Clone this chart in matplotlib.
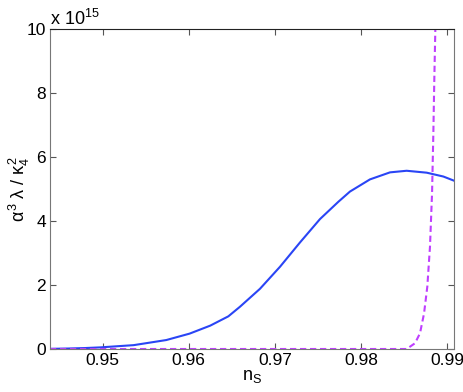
import matplotlib
matplotlib.use("Agg")
import matplotlib.pyplot as plt

plt.rcParams["font.family"] = ["Liberation Sans", "DejaVu Sans"]
plt.rcParams["mathtext.fontset"] = "custom"
plt.rcParams["mathtext.rm"] = "Liberation Sans"
plt.rcParams["mathtext.it"] = "Liberation Sans"

# values in units of 1e15
ns_solid = [0.9439, 0.946, 0.948, 0.9497, 0.9536, 0.9574, 0.9601, 0.9625,
            0.9646, 0.96595, 0.96827, 0.9706, 0.97292, 0.97524,
            0.97737, 0.97872, 0.98104, 0.98337, 0.9853, 0.98763, 0.98956,
            0.9908]
y_solid = [0.005, 0.015, 0.03, 0.05, 0.12, 0.28, 0.48, 0.73,
           1.02, 1.32, 1.88, 2.57, 3.33, 4.06,
           4.60, 4.92, 5.30, 5.52, 5.57, 5.51, 5.39,
           5.26]

ns_dash = [0.9439, 0.980, 0.9853, 0.98627, 0.98685, 0.98732, 0.9877,
           0.98801, 0.98825, 0.9884, 0.98851, 0.98863, 0.9887]
y_dash = [0.0, 0.0, 0.0, 0.18, 0.49, 1.11, 1.95,
          3.2, 4.87, 6.74, 8.4, 9.97, 11.0]

xticks = [0.95, 0.96, 0.97, 0.98, 0.99]
yticks = [0, 2, 4, 6, 8, 10]

fig = plt.figure(figsize=(4.63, 3.92), dpi=100)
ax = fig.add_axes([0.108, 0.1097, 0.8726, 0.8163])

ax.plot(ns_solid, y_solid, color="#2a45f5", lw=1.5)
ax.plot(ns_dash, y_dash, color="#bf3fff", lw=1.5, dashes=(3.0, 1.8))

ax.set_xlim(0.9439, 0.9908)
ax.set_ylim(0, 10)
ax.set_xticks(xticks)
ax.set_xticklabels([f"{t:.2f}" for t in xticks])
ax.set_yticks(yticks)
ax.tick_params(direction="in", top=True, right=True, length=4,
               labelsize=12.5, color="#555555", pad=3)
for side in ["left", "right", "bottom"]:
    ax.spines[side].set_color("#777777")
ax.spines["top"].set_color("#222222")

ax.set_xlabel(r"$\mathregular{n_S}$", fontsize=13, labelpad=0)
ax.set_ylabel(r"$\alpha^3\ \lambda\ /\ \kappa_4^2$", fontsize=13)
ax.yaxis.set_label_coords(-0.045, 0.5)
ax.text(0.0, 1.0, r"x 10$^{15}$", transform=ax.transAxes, fontsize=13,
        ha="left", va="bottom")

fig.savefig("out.png", dpi=100)
